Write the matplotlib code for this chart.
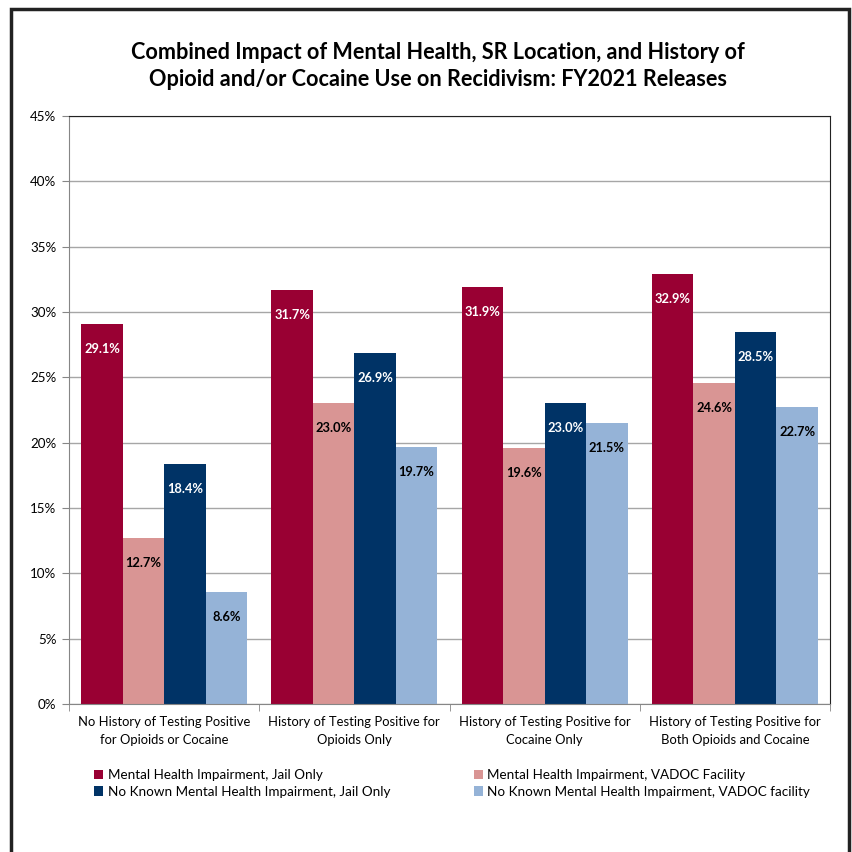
import numpy as np
import matplotlib
matplotlib.use("Agg")
import matplotlib.pyplot as plt
from matplotlib.patches import Rectangle
from matplotlib.ticker import FuncFormatter, MultipleLocator

plt.rcParams["font.family"] = ["Lato", "DejaVu Sans"]

categories = [
    "No History of Testing Positive\nfor Opioids or Cocaine",
    "History of Testing Positive for\nOpioids Only",
    "History of Testing Positive for\nCocaine Only",
    "History of Testing Positive for\nBoth Opioids and Cocaine",
]
series = [
    "Mental Health Impairment, Jail Only",
    "Mental Health Impairment, VADOC Facility",
    "No Known Mental Health Impairment, Jail Only",
    "No Known Mental Health Impairment, VADOC facility",
]
mh_jail = [29.1, 31.7, 31.9, 32.9]
mh_vadoc = [12.7, 23.0, 19.6, 24.6]
nomh_jail = [18.4, 26.9, 23.0, 28.5]
nomh_vadoc = [8.6, 19.7, 21.5, 22.7]

COLORS = ["#990033", "#D99594", "#003366", "#95B3D7"]
LABEL_COLORS = ["white", "black", "white", "black"]

fig = plt.figure(figsize=(8.52, 8.52), dpi=100)
ax = fig.add_axes([69 / 852, 1 - 704 / 852, 761 / 852, 588 / 852])

x = np.arange(len(categories))
w = 0.218
bars = []
for k, vals in enumerate([mh_jail, mh_vadoc, nomh_jail, nomh_vadoc]):
    pos = x + (k - 1.5) * w
    bars.append(ax.bar(pos, vals, w, color=COLORS[k], label=series[k], zorder=2))
    for xp, v in zip(pos, vals):
        ax.annotate(f"{v:.1f}%", (xp, v), xytext=(0, -18), textcoords="offset points",
                    ha="center", va="center", fontsize=9.3, fontweight="bold",
                    color=LABEL_COLORS[k], zorder=3)

ax.set_xlim(-0.5, 3.5)
ax.set_ylim(0, 45)
ax.yaxis.set_major_locator(MultipleLocator(5))
ax.yaxis.set_major_formatter(FuncFormatter(lambda v, _: f"{v:.0f}%"))
ax.grid(True, axis="y", color="#a6a6a6", linewidth=1, zorder=0)
ax.set_axisbelow(True)
ax.set_xticks(x)
ax.set_xticklabels(categories, fontsize=9.4, linespacing=1.55)
ax.tick_params(axis="x", length=0, pad=9)
ax.set_xticks(np.arange(-0.5, 4.0, 1.0), minor=True)
ax.tick_params(axis="x", which="minor", length=5, color="#868686")
ax.tick_params(axis="y", length=5, color="#868686", labelsize=9.6, pad=4)
for side in ["left", "bottom"]:
    ax.spines[side].set_color("#868686")
for side in ["top", "right"]:
    ax.spines[side].set_color("#222222")

fig.text(438 / 852, 1 - 66 / 852,
         "Combined Impact of Mental Health, SR Location, and History of\n"
         "Opioid and/or Cocaine Use on Recidivism: FY2021 Releases",
         ha="center", va="center", fontsize=15.6, fontweight="bold", linespacing=1.3)

# two rows: mental-health series on top, no-known-impairment series below
order = [0, 2, 1, 3]
ax.legend([bars[i] for i in order], [series[i] for i in order],
          loc="upper left", bbox_to_anchor=(0.017, -0.09), ncol=2, frameon=False,
          fontsize=9.7, handlelength=0.7, handleheight=0.7, handletextpad=0.3,
          columnspacing=6.2, labelspacing=0.35)

fig.patches.append(Rectangle((11 / 852, -0.1), 838 / 852, 1.1 - 9 / 852,
                             transform=fig.transFigure, fill=False,
                             edgecolor="#222222", linewidth=2.5))

fig.savefig("out.png", dpi=100)
